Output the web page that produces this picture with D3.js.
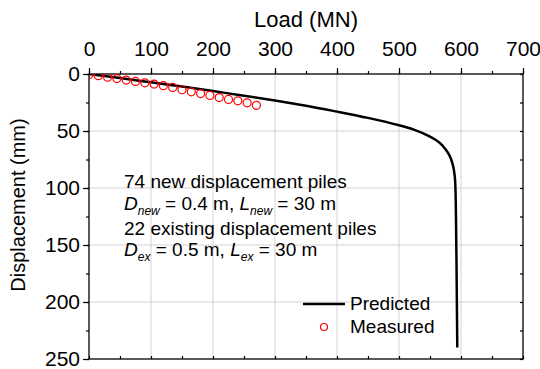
<!DOCTYPE html>
<html>
<head>
<meta charset="utf-8">
<script src="https://cdn.jsdelivr.net/npm/d3@7"></script>
<style>
  body { margin: 0; background: #fff; }
  text { font-family: Arial, "Liberation Sans", sans-serif; }
</style>
</head>
<body>
<svg width="540" height="369"></svg>
<script>
// predicted load-displacement curve (MN, mm)
var predLoad = [0, 50, 100, 150, 200, 250, 300, 350, 400, 450, 500, 525, 550, 565, 575, 582, 587, 590, 591, 592, 593, 594];
var predDisp = [0, 3.6, 7.3, 11, 15, 19, 23.2, 27.8, 33, 38.5, 45, 49, 55, 60, 66, 72, 80, 90, 100, 130, 180, 240];
// measured points
var measLoad = [0, 15, 30, 45, 60, 75, 90, 105, 120, 135, 150, 165, 180, 195, 210, 225, 240, 255, 270];
var measDisp = [0.5, 1.5, 2.8, 4.0, 5.3, 6.5, 7.7, 8.8, 10.2, 11.8, 13.8, 15.6, 17.2, 18.8, 20.7, 22.3, 23.5, 25.3, 27.5];
var xTicks = [0, 100, 200, 300, 400, 500, 600, 700];
var yTicks = [0, 50, 100, 150, 200, 250];

var L = 89, R = 523, T = 74, B = 359;
var svg = d3.select("svg");

var scX = d3.scaleLinear().domain([0, 700]).range([L, R]);
var scY = d3.scaleLinear().domain([0, 250]).range([T, B]);

// grid
svg.append("g").selectAll("line")
    .data(xTicks.slice(1, -1)).enter().append("line")
    .attr("x1", d => scX(d)).attr("x2", d => scX(d))
    .attr("y1", T).attr("y2", B)
    .attr("stroke", "#d3d3d3").attr("stroke-width", 1);
svg.append("g").selectAll("line")
    .data(yTicks.slice(1, -1)).enter().append("line")
    .attr("y1", d => scY(d)).attr("y2", d => scY(d))
    .attr("x1", L).attr("x2", R)
    .attr("stroke", "#d3d3d3").attr("stroke-width", 1);

var xMinor = d3.range(0, 701, 50), yMinor = d3.range(0, 251, 25);

function styleAxis(g) {
    g.select(".domain").remove();
    g.selectAll("line").attr("stroke", "#000").attr("stroke-width", 1.2);
    g.selectAll("text").attr("font-size", 21).attr("fill", "#000");
}

// top axis (outward)
svg.append("g").attr("transform", "translate(0," + T + ")")
    .call(d3.axisTop(scX).tickValues(xMinor).tickSize(3).tickFormat(""))
    .call(styleAxis);
svg.append("g").attr("transform", "translate(0," + T + ")")
    .call(d3.axisTop(scX).tickValues(xTicks).tickSize(6).tickPadding(12).tickFormat(d3.format("d")))
    .call(styleAxis);
// left axis (outward)
svg.append("g").attr("transform", "translate(" + L + ",0)")
    .call(d3.axisLeft(scY).tickValues(yMinor).tickSize(3).tickFormat(""))
    .call(styleAxis);
svg.append("g").attr("transform", "translate(" + L + ",0)")
    .call(d3.axisLeft(scY).tickValues(yTicks).tickSize(6).tickPadding(3).tickFormat(d3.format("d")))
    .call(styleAxis);
// bottom & right mirrors (inward)
svg.append("g").attr("transform", "translate(0," + B + ")")
    .call(d3.axisTop(scX).tickValues(xMinor).tickSize(3).tickFormat(""))
    .call(styleAxis);
svg.append("g").attr("transform", "translate(" + R + ",0)")
    .call(d3.axisLeft(scY).tickValues(yMinor).tickSize(3).tickFormat(""))
    .call(styleAxis);

// frame
svg.append("rect").attr("x", L).attr("y", T).attr("width", R - L).attr("height", B - T)
    .attr("fill", "none").attr("stroke", "#000").attr("stroke-width", 1.3);

// titles
svg.append("text").attr("x", (L + R) / 2).attr("y", 27).attr("text-anchor", "middle")
    .attr("font-size", 22).text("Load (MN)");
svg.append("text").attr("transform", "translate(25,205) rotate(-90)")
    .attr("text-anchor", "middle").attr("font-size", 20).text("Displacement (mm)");

svg.append("clipPath").attr("id", "clip").append("rect")
    .attr("x", L).attr("y", T).attr("width", R - L).attr("height", B - T);

var plot = svg.append("g").attr("clip-path", "url(#clip)");

var pred = predLoad.map((d, i) => [d, predDisp[i]]);
var lineMaker = d3.line()
    .x(d => scX(d[0])).y(d => scY(d[1]))
    .curve(d3.curveMonotoneY);
plot.append("path").attr("d", lineMaker(pred))
    .attr("fill", "none").attr("stroke", "#000").attr("stroke-width", 2.5);

plot.selectAll("circle").data(measLoad).enter().append("circle")
    .attr("cx", d => scX(d)).attr("cy", (d, i) => scY(measDisp[i]))
    .attr("r", 4).attr("fill", "none").attr("stroke", "#ff0000").attr("stroke-width", 1.2);

// annotation
var ann = svg.append("g").attr("font-size", 19);
function subLine(y, a, b) {
    var t = ann.append("text").attr("x", 124).attr("y", y);
    t.append("tspan").attr("font-style", "italic").text("D");
    t.append("tspan").attr("font-style", "italic").attr("font-size", 12).attr("dy", 5).text(a);
    t.append("tspan").attr("dy", -5).text(b);
    t.append("tspan").attr("font-style", "italic").text("L");
    t.append("tspan").attr("font-style", "italic").attr("font-size", 12).attr("dy", 5).text(a);
    t.append("tspan").attr("dy", -5).text(" = 30 m");
}
ann.append("text").attr("x", 124).attr("y", 188).text("74 new displacement piles");
subLine(210, "new", " = 0.4 m, ");
ann.append("text").attr("x", 124).attr("y", 235).text("22 existing displacement piles");
subLine(256, "ex", " = 0.5 m, ");

// legend
var lg = svg.append("g").attr("font-size", 19);
lg.append("line").attr("x1", 303).attr("x2", 345).attr("y1", 304).attr("y2", 304)
    .attr("stroke", "#000").attr("stroke-width", 2.5);
lg.append("text").attr("x", 350).attr("y", 310).text("Predicted");
lg.append("circle").attr("cx", 324).attr("cy", 327).attr("r", 3.5)
    .attr("fill", "none").attr("stroke", "#ff0000").attr("stroke-width", 1.2);
lg.append("text").attr("x", 350).attr("y", 333).text("Measured");
</script>
</body>
</html>
